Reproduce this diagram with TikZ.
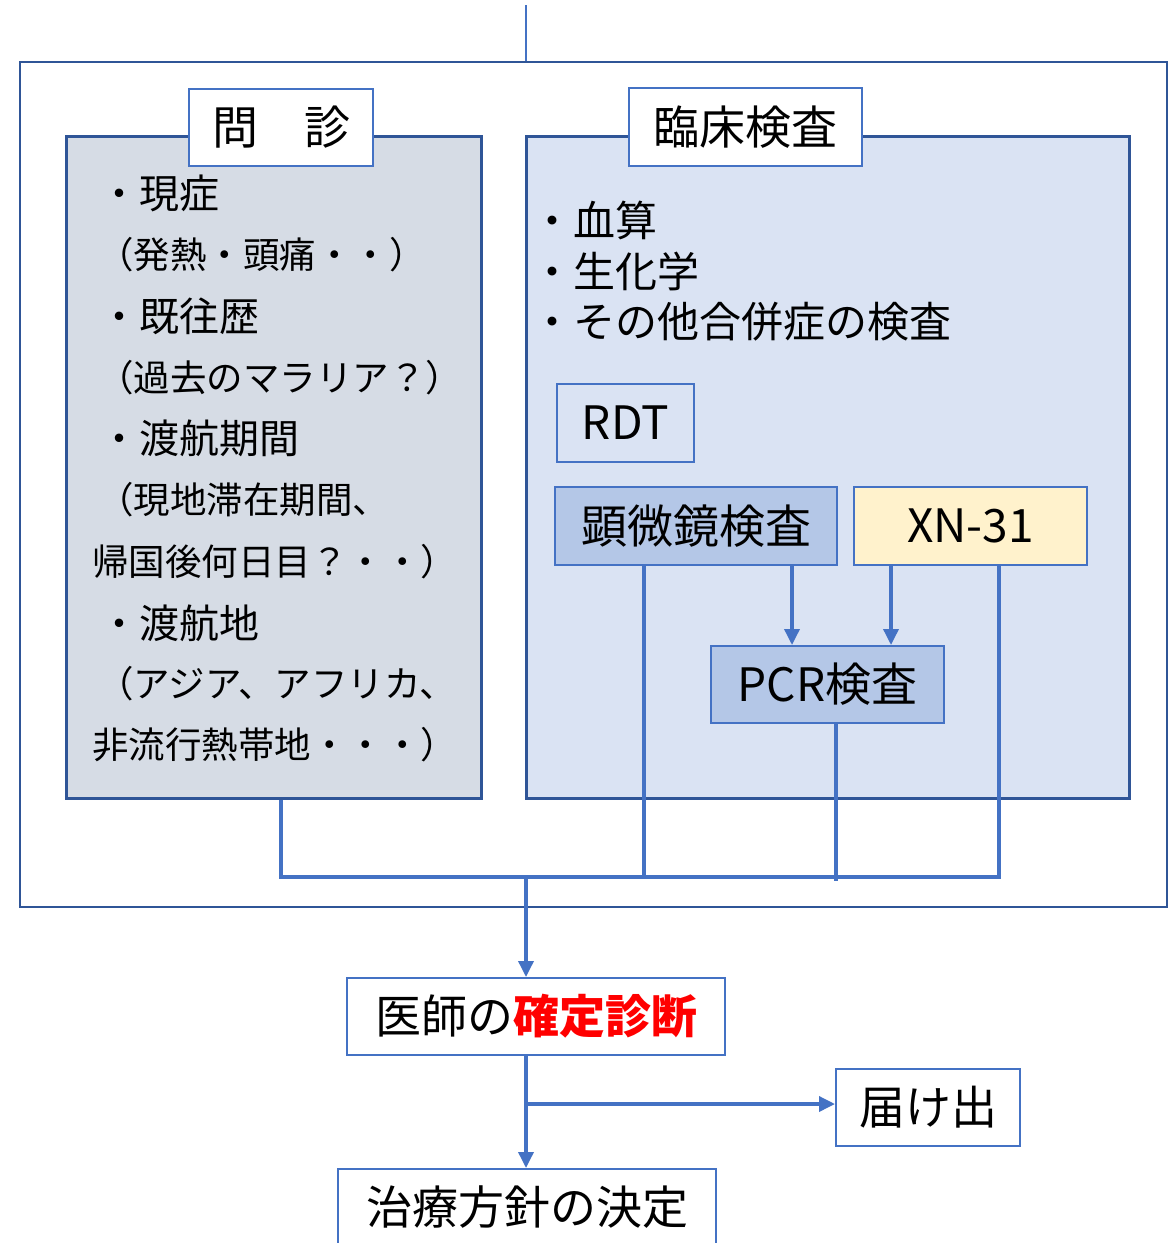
\documentclass[tikz,border=0pt]{standalone}
\usepackage{fontspec}
\setmainfont{Noto Sans CJK JP}
\usetikzlibrary{arrows.meta}
\definecolor{dkblue}{HTML}{2F5597}
\definecolor{mdblue}{HTML}{4472C4}
\definecolor{leftfill}{HTML}{D6DCE5}
\definecolor{rightfill}{HTML}{DAE3F3}
\definecolor{midfill}{HTML}{B4C7E7}
\definecolor{yelfill}{HTML}{FFF2CC}
\newcommand\myfs[1]{\fontsize{#1}{#1}\selectfont}
\tikzset{
  bigbox/.style={draw=dkblue, line width=3pt, rectangle, inner sep=0pt},
  lblbox/.style={draw=mdblue, line width=2pt, fill=white, rectangle, inner sep=0pt, font=\myfs{46}},
  inbox/.style={draw=mdblue, line width=2pt, rectangle, inner sep=0pt, font=\myfs{46}},
  conn/.style={draw=mdblue, line width=3.5pt},
  arr/.style={conn, -{Triangle[length=16pt,width=15pt]}},
  mainitem/.style={anchor=west, inner sep=0pt, font=\myfs{40}},
  subitem/.style={anchor=west, inner sep=0pt, font=\myfs{36.5}},
  ritem/.style={anchor=west, inner sep=0pt, font=\myfs{42}},
}
\begin{document}
\begin{tikzpicture}[x=1pt,y=-1pt]
\useasboundingbox (0,0) rectangle (1173,1243);
% outer frame
\node[draw=dkblue, line width=2.5pt, rectangle, inner sep=0pt, minimum width=1147pt, minimum height=845pt] (outer) at (593.5,484.5) {};
\coordinate (top) at (526,5);
\draw[conn, line width=2.5pt] (top) -- (top |- outer.north);
% left and right boxes
\node[bigbox, fill=leftfill, minimum width=415pt, minimum height=662pt] (left) at (273.5,467) {};
\node[bigbox, fill=rightfill, minimum width=603pt, minimum height=662pt] (right) at (827.5,467) {};
\node[lblbox, minimum width=184pt, minimum height=77pt] (monshin) at (281,127.5) {問　診};
\node[lblbox, minimum width=233pt, minimum height=78pt] (rinsho) at (745.5,127) {臨床検査};
% left texts
\node[mainitem] (l1) at (99,193) {・現症};
\node[subitem] (l2) at (97,255) {（発熱・頭痛・・）};
\node[mainitem] (l3) at (99,316) {・既往歴};
\node[subitem] (l4) at (97,378) {（過去のマラリア？）};
\node[mainitem] (l5) at (99,438) {・渡航期間};
\node[subitem] (l6) at (97,500) {（現地滞在期間、};
\node[subitem] (l7) at (92,562) {帰国後何日目？・・）};
\node[mainitem] (l8) at (99,623) {・渡航地};
\node[subitem] (l9) at (97,684) {（アジア、アフリカ、};
\node[subitem] (l10) at (92,745) {非流行熱帯地・・・）};
% right texts
\node[ritem] (r1) at (531,220) {・血算};
\node[ritem] (r2) at (531,271) {・生化学};
\node[ritem] (r3) at (531,322) {・その他合併症の検査};
% test boxes
\node[inbox, minimum width=137pt, minimum height=78pt] (rdt) at (625.5,423) {RDT};
\node[inbox, fill=midfill, minimum width=282pt, minimum height=78pt] (kenbi) at (696,526) {顕微鏡検査};
\node[inbox, fill=yelfill, minimum width=233pt, minimum height=78pt] (xn) at (970.5,526) {XN-31};
\node[inbox, fill=midfill, minimum width=233pt, minimum height=77pt] (pcr) at (827.5,684.5) {PCR検査};
% bottom boxes
\node[inbox, fill=white, minimum width=378pt, minimum height=77pt] (ishi) at (536,1016.5) {医師の{\color{red}\bfseries 確定診断}};
\node[inbox, fill=white, minimum width=184pt, minimum height=77pt] (todoke) at (928,1107.5) {届け出};
\node[inbox, fill=white, minimum width=378pt, minimum height=77pt] (chiryo) at (527,1207.5) {治療方針の決定};
% connectors
\coordinate (busL) at (281,877);
\coordinate (busR) at (999,877);
\coordinate (busM) at (526,877);
\coordinate (br) at (526,1104);
\coordinate (kA) at ([xshift=-52pt]kenbi.south);
\coordinate (kB) at ([xshift=96pt]kenbi.south);
\coordinate (xA) at ([xshift=-79.5pt]xn.south);
\coordinate (xB) at ([xshift=28.5pt]xn.south);
\coordinate (pA) at ([xshift=8.5pt]pcr.south);
\draw[conn] (left.south -| busL) -- (busL) -- (busR) -- (xB);
\draw[conn] (kA) -- (kA |- busL);
\draw[conn] (pA) -- ++(0,157);
\draw[arr] (kB) -- (kB |- pcr.north);
\draw[arr] (xA) -- (xA |- pcr.north);
\draw[arr] (busM) -- (busM |- ishi.north);
\draw[arr] (busM |- ishi.south) -- (busM |- chiryo.north);
\draw[arr] (br) -- (todoke.west |- br);
\end{tikzpicture}
\end{document}
